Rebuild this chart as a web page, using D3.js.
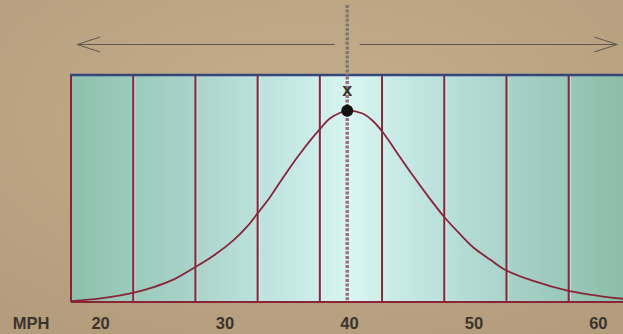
<!DOCTYPE html>
<html><head><meta charset="utf-8">
<script src="https://cdn.jsdelivr.net/npm/d3@7"></script>
<style>html,body{margin:0;padding:0;overflow:hidden;background:#bca684}</style>
</head><body><svg id="chart" width="623" height="334"></svg>
<script>
// ---- data ----
const tickValues = [20, 30, 40, 50, 60];
const bandEdges = [17.5, 22.5, 27.5, 32.5, 37.5, 42.5, 47.5, 52.5, 57.5, 62.5];
const curveMph = [17.55, 19.88, 22.47, 24.15, 25.76, 27.40, 28.97, 30.57, 31.65, 32.50, 33.52, 34.59, 35.93, 37.48, 38.33, 39.14, 39.70, 40.88, 41.68, 42.56, 43.55, 44.89, 46.22, 47.48, 48.69, 49.84, 51.18, 52.46, 54.65, 57.49, 60.0, 61.85, 62.5];
const curveDensity = [0.005, 0.019, 0.048, 0.078, 0.118, 0.179, 0.243, 0.324, 0.394, 0.464, 0.551, 0.655, 0.778, 0.903, 0.961, 0.990, 1.0, 0.987, 0.952, 0.888, 0.795, 0.669, 0.551, 0.446, 0.360, 0.285, 0.222, 0.166, 0.110, 0.058, 0.031, 0.017, 0.014];
const peakMph = 39.7;
const arrowLeft = [18.0, 38.7];
const arrowRight = [40.7, 61.4];
const axisTitle = "MPH";
const markerLabel = "x";

// ---- layout ----
const W = 623, H = 334;
const svg = d3.select("#chart");
const x = d3.scaleLinear().domain([17.5, 57.5]).range([71, 568.7]);
const y = d3.scaleLinear().domain([0, 1]).range([302, 110.8]);
const topY = 75, bottomY = 302, arrowY = 44.5;

const defs = svg.append("defs");
const bg = defs.append("radialGradient").attr("id", "bg").attr("cx", "50%").attr("cy", "35%").attr("r", "75%");
bg.append("stop").attr("offset", "0").attr("stop-color", "#c4ae8c");
bg.append("stop").attr("offset", "1").attr("stop-color", "#b39d7c");
svg.append("rect").attr("width", W).attr("height", H).attr("fill", "url(#bg)");

const g = defs.append("linearGradient").attr("id", "band").attr("gradientUnits", "userSpaceOnUse")
  .attr("x1", x(17.5)).attr("x2", x(62.5)).attr("y1", 0).attr("y2", 0);
[[0, "#8ec2ad"], [0.2, "#a6d1c8"], [0.38, "#c3e7e3"], [0.5, "#d8f5f1"], [0.62, "#c1e6e2"], [0.8, "#a5d0c7"], [1, "#89bca5"]]
  .forEach(([o, c]) => g.append("stop").attr("offset", o).attr("stop-color", c));

svg.append("rect")
  .attr("x", x(bandEdges[0])).attr("y", topY)
  .attr("width", x(bandEdges[bandEdges.length - 1]) - x(bandEdges[0]))
  .attr("height", bottomY - topY)
  .attr("fill", "url(#band)");

// band separators
svg.selectAll("line.hl").data(bandEdges.slice(1)).join("line").attr("class", "hl")
  .attr("x1", d => x(d) + 1.6).attr("x2", d => x(d) + 1.6)
  .attr("y1", topY).attr("y2", bottomY)
  .attr("stroke", "#e6fbf8").attr("stroke-opacity", 0.6).attr("stroke-width", 1);
svg.selectAll("line.sep").data(bandEdges).join("line").attr("class", "sep")
  .attr("x1", d => x(d)).attr("x2", d => x(d))
  .attr("y1", topY).attr("y2", bottomY)
  .attr("stroke", "#8a2539").attr("stroke-width", 2);

// bottom and top borders
svg.append("line").attr("x1", x(bandEdges[0])).attr("x2", W).attr("y1", bottomY).attr("y2", bottomY)
  .attr("stroke", "#8a2539").attr("stroke-width", 2.2);
svg.append("line").attr("x1", x(bandEdges[0]) - 1).attr("x2", W).attr("y1", topY).attr("y2", topY)
  .attr("stroke", "#34467a").attr("stroke-width", 2.6);

// arrows
const arrowStroke = "#5e5850";
svg.append("line").attr("x1", x(arrowLeft[0])).attr("x2", x(arrowLeft[1])).attr("y1", arrowY).attr("y2", arrowY)
  .attr("stroke", arrowStroke).attr("stroke-width", 1);
svg.append("line").attr("x1", x(arrowRight[0])).attr("x2", x(arrowRight[1])).attr("y1", arrowY).attr("y2", arrowY)
  .attr("stroke", arrowStroke).attr("stroke-width", 1);
const ax0 = x(arrowLeft[0]), ax1 = x(arrowRight[1]);
svg.append("path").attr("d", `M${ax0 + 23},${arrowY - 7.5}L${ax0},${arrowY}L${ax0 + 23},${arrowY + 7.5}`)
  .attr("fill", "none").attr("stroke", arrowStroke).attr("stroke-width", 1);
svg.append("path").attr("d", `M${ax1 - 23},${arrowY - 7.5}L${ax1},${arrowY}L${ax1 - 23},${arrowY + 7.5}`)
  .attr("fill", "none").attr("stroke", arrowStroke).attr("stroke-width", 1);

// dashed marker line
const px = x(peakMph);
svg.append("line").attr("x1", px).attr("x2", px).attr("y1", 5).attr("y2", topY)
  .attr("stroke", "#7d7975").attr("stroke-width", 3.5).attr("stroke-dasharray", "3,1.6");
svg.append("line").attr("x1", px).attr("x2", px).attr("y1", topY + 1.5).attr("y2", bottomY)
  .attr("stroke", "#a06d7a").attr("stroke-width", 3.5).attr("stroke-dasharray", "3,1.6");

// curve
const pts = curveMph.map((m, i) => [m, curveDensity[i]]);
svg.append("path").datum(pts)
  .attr("d", d3.line().x(d => x(d[0])).y(d => y(d[1])).curve(d3.curveCatmullRom.alpha(0.5)))
  .attr("fill", "none").attr("stroke", "#8a2539").attr("stroke-width", 1.8);

// peak marker
svg.append("circle").attr("cx", px).attr("cy", y(1)).attr("r", 6).attr("fill", "#111");
svg.append("text").attr("x", px).attr("y", 96).attr("text-anchor", "middle")
  .attr("font-family", "Liberation Sans, Arial, sans-serif").attr("font-weight", "bold")
  .attr("font-size", 18).attr("fill", "#3a342c").text(markerLabel);

// axis
const axis = d3.axisBottom(x).tickValues(tickValues).tickSize(0).tickPadding(15.5).tickFormat(d3.format("d"));
const ag = svg.append("g").attr("transform", `translate(-2,${bottomY})`).call(axis);
ag.select(".domain").remove();
ag.selectAll("text").attr("font-family", "Liberation Sans, Arial, sans-serif").attr("font-weight", "bold")
  .attr("font-size", 16.5).attr("fill", "#3b342c");
svg.append("text").attr("x", 31).attr("y", 329).attr("text-anchor", "middle")
  .attr("font-family", "Liberation Sans, Arial, sans-serif").attr("font-weight", "bold")
  .attr("font-size", 16.5).attr("fill", "#3b342c").text(axisTitle);
</script>
</body></html>
